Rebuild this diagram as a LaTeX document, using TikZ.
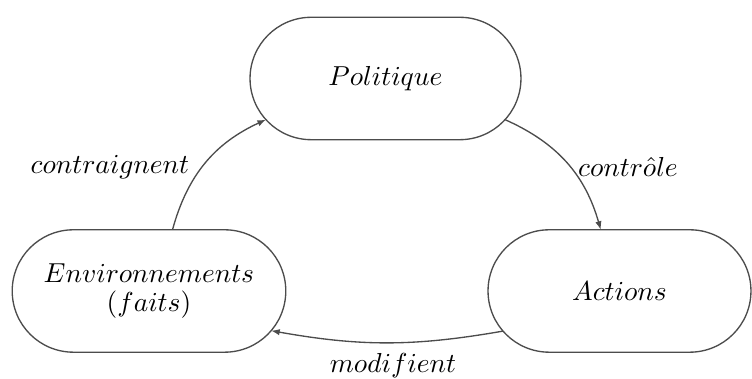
\documentclass[tikz,border=0pt]{standalone}
\usetikzlibrary{shapes.misc,arrows.meta}
\newcommand{\bigtxt}[1]{\scalebox{1.03}{#1}}
\begin{document}
\begin{tikzpicture}[x=0.375pt,y=-0.375pt,
  state/.style={rounded rectangle, draw=black!70, line width=0.5pt, minimum height=45.9pt, outer sep=0pt, inner sep=2pt, align=center},
  link/.style={draw=black!70, line width=0.5pt, -{Latex[length=3.2pt,width=2.4pt]}},
  lab/.style={inner sep=0pt}]
\useasboundingbox (0,0) rectangle (752,379);
\node[state, minimum width=105.6pt] (pol) at (385.5,78.5) {\bigtxt{$Politique$}};
\node[state, minimum width=106.6pt] (env) at (149,291) {\bigtxt{$Environnements$}\\[-1pt]\bigtxt{$(faits)$}};
\node[state, minimum width=102.6pt] (act) at (619.5,291) {\bigtxt{$Actions$}};
\draw[link] (env.69) to[bend left=25] (pol.199);
\draw[link] (pol.-19) to[bend left=25] (act.107);
\draw[link] (act.199) to[bend left=10] (env.-18);
\node[lab] (l1) at (110,167) {\bigtxt{$contraignent$}};
\node[lab] (l2) at (628,167) {\bigtxt{$contr\hat{o}le$}};
\node[lab] (l3) at (393,366) {\bigtxt{$modifient$}};
\end{tikzpicture}
\end{document}
